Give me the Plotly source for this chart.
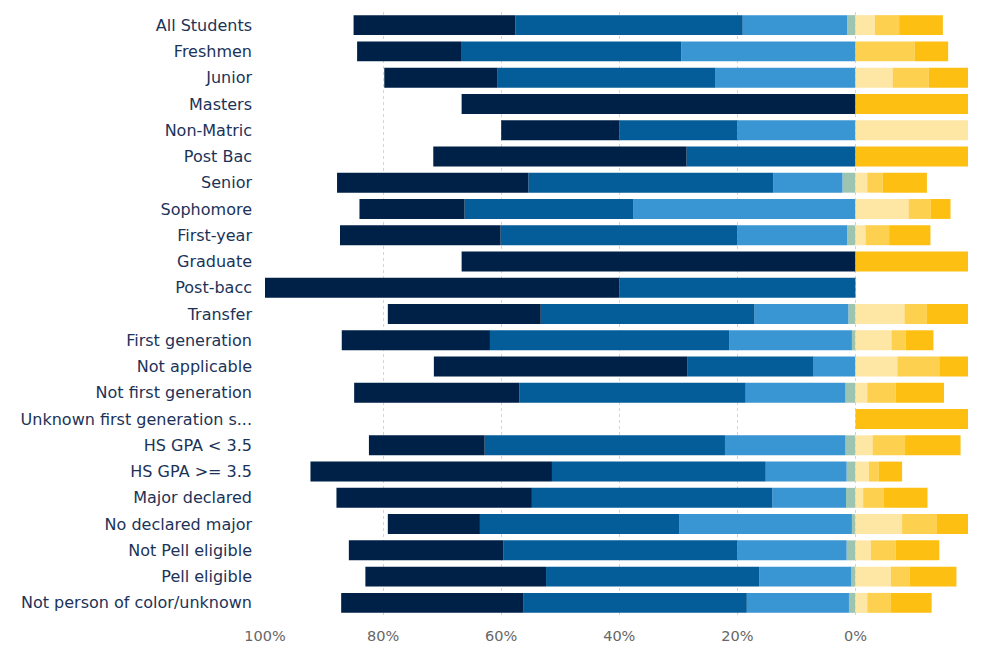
import plotly.graph_objects as go

# Row labels, top to bottom
groups = [
    'All Students', 'Freshmen', 'Junior', 'Masters', 'Non-Matric', 'Post Bac',
    'Senior', 'Sophomore', 'First-year', 'Graduate', 'Post-bacc', 'Transfer',
    'First generation', 'Not applicable', 'Not first generation',
    'Unknown first generation s...', 'HS GPA < 3.5', 'HS GPA >= 3.5',
    'Major declared', 'No declared major', 'Not Pell eligible', 'Pell eligible',
    'Not person of color/unknown',
]

# Left side of zero (percent of students), from the outer end inward
navy = [27.4, 17.6, 19.2, 66.7, 20.0, 42.9, 32.4, 17.8, 27.2, 66.7, 60.0, 25.9,
        25.1, 42.9, 28.0, 0, 19.6, 40.9, 33.1, 15.6, 26.2, 30.6, 30.9]
mid_blue = [38.5, 37.3, 36.9, 0, 20.0, 28.6, 41.5, 28.6, 40.1, 0, 40.0, 36.2,
            40.5, 21.4, 38.3, 0, 40.7, 36.2, 40.7, 33.8, 39.6, 36.1, 37.8]
light_blue = [17.7, 29.5, 23.7, 0, 20.0, 0, 11.7, 37.6, 18.6, 0, 0, 15.9,
              20.8, 7.1, 16.9, 0, 20.4, 13.7, 12.5, 29.2, 18.5, 15.6, 17.3]
neutral = [1.4, 0, 0, 0, 0, 0, 2.2, 0, 1.4, 0, 0, 1.2,
           0.6, 0, 1.7, 0, 1.7, 1.5, 1.6, 0.6, 1.5, 0.7, 1.1]

# Right side of zero, from zero outward
pale_yellow = [3.3, 0, 6.3, 0, 40.0, 0, 2.0, 9.0, 1.7, 0, 0, 8.3,
               6.1, 7.1, 2.0, 0, 2.9, 2.3, 1.3, 7.9, 2.6, 6.0, 2.0]
light_yellow = [4.1, 10.0, 6.1, 0, 0, 0, 2.6, 3.7, 4.0, 0, 0, 3.8,
                2.4, 7.1, 4.8, 0, 5.5, 1.6, 3.5, 5.9, 4.2, 3.2, 4.0]
gold = [7.4, 5.7, 7.8, 33.3, 0, 28.6, 7.5, 3.4, 7.0, 33.3, 0, 8.7,
        4.7, 14.3, 8.2, 100.0, 9.4, 4.0, 7.4, 7.0, 7.4, 7.9, 6.9]

tick_vals = [0, 20, 40, 60, 80, 100]
tick_text = ['0%', '20%', '40%', '60%', '80%', '100%']

fig = go.Figure()

# Positive values stack leftward on the reversed axis, closest to zero first
left_series = [
    (neutral, '#9CC4B0'),
    (light_blue, '#3A95D3'),
    (mid_blue, '#045C98'),
    (navy, '#002147'),
]
for vals, color in left_series:
    fig.add_trace(go.Bar(
        y=groups, x=vals, orientation='h',
        marker=dict(color=color, line=dict(width=0)),
        hoverinfo='skip', showlegend=False,
    ))

# Negative values stack rightward
right_series = [
    (pale_yellow, '#FEE6A4'),
    (light_yellow, '#FED04F'),
    (gold, '#FDBF11'),
]
for vals, color in right_series:
    fig.add_trace(go.Bar(
        y=groups, x=[-v for v in vals], orientation='h',
        marker=dict(color=color, line=dict(width=0)),
        hoverinfo='skip', showlegend=False,
    ))

# page body adds 8px, margins compensate for it
fig.update_layout(
    barmode='relative',
    bargap=0.24,
    width=984, height=650,
    margin=dict(l=257, r=24, t=4, b=42),
    plot_bgcolor='white',
    paper_bgcolor='white',
    font=dict(family='DejaVu Sans', size=14),
)

fig.update_xaxes(
    range=[100, -19.06],
    tickvals=tick_vals, ticktext=tick_text,
    tickfont=dict(color='#666666', size=14.5, family='DejaVu Sans'),
    showgrid=True, gridcolor='#d4d4d4', griddash='dot', gridwidth=1,
    zeroline=False, showline=False, ticks='',
    ticklabelstandoff=9,
    fixedrange=True,
)

fig.update_yaxes(
    autorange='reversed',
    tickfont=dict(color='#1B3358', size=16, family='DejaVu Sans'),
    showgrid=False, zeroline=False, showline=False, ticks='',
    ticklabelstandoff=12,
)

fig.write_html("out.html")
